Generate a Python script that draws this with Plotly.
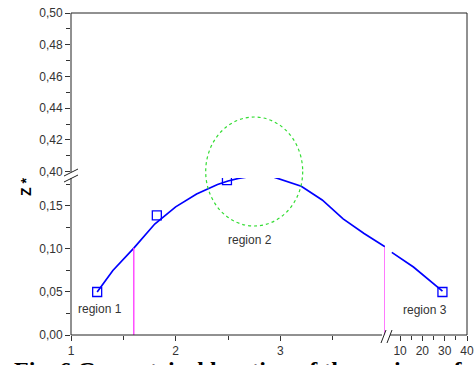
import plotly.graph_objects as go

# ---- data ----
curve_left_x = [1.25, 1.4, 1.6, 1.8, 2.0, 2.2, 2.4, 2.5, 2.6, 2.7, 2.8, 2.9, 3.0, 3.2, 3.4, 3.6, 3.8, 4.0]
curve_left_y = [0.050, 0.075, 0.101, 0.129, 0.149, 0.164, 0.175, 0.179, 0.182, 0.1845, 0.186, 0.185, 0.181, 0.173, 0.157, 0.135, 0.118, 0.1025]
curve_right_x = [6.3, 16, 29]
curve_right_y = [0.096, 0.079, 0.051]
pts_left_x = [1.25, 1.82, 2.49]
pts_left_y = [0.050, 0.139, 0.180]
pts_right_x = [29]
pts_right_y = [0.050]
region_lines_x = [1.6, 4.0]
region_lines_y = [0.101, 0.1025]
region_labels = ["region 1", "region 2", "region 3"]
region_label_x = [1.28, 2.71, 21.3]
region_label_y = [0.030, 0.110, 0.029]
y_low_ticks = [0.00, 0.05, 0.10, 0.15]
y_high_ticks = [0.40, 0.42, 0.44, 0.46, 0.48, 0.50]
x_left_ticks = [1, 2, 3]
x_right_ticks = [10, 20, 30, 40]

L, R, T, B = 71, 467, 13, 335
def px(x):
    return (x - L) / (R - L)
def py(y):
    return (B - y) / (B - T)

BLUE = "#0000ff"
MAG = "#ff33ff"
TXT = "#333333"
FONT = "Liberation Sans, Arial, sans-serif"

fig = go.Figure()
fig.add_trace(go.Scatter(x=curve_left_x, y=curve_left_y, mode="lines",
                         line=dict(color=BLUE, width=1.7), xaxis="x", yaxis="y"))
fig.add_trace(go.Scatter(x=curve_right_x, y=curve_right_y, mode="lines",
                         line=dict(color=BLUE, width=1.7), xaxis="x2", yaxis="y"))
fig.add_trace(go.Scatter(x=pts_left_x, y=pts_left_y, mode="markers",
                         marker=dict(symbol="square-open", size=9, color=BLUE, line=dict(width=1.3)),
                         xaxis="x", yaxis="y"))
fig.add_trace(go.Scatter(x=pts_right_x, y=pts_right_y, mode="markers",
                         marker=dict(symbol="square-open", size=9, color=BLUE, line=dict(width=1.3)),
                         xaxis="x2", yaxis="y", cliponaxis=False))
for xv, yv in zip(region_lines_x, region_lines_y):
    fig.add_trace(go.Scatter(x=[xv, xv], y=[0, yv], mode="lines",
                             line=dict(color=MAG, width=1.3), xaxis="x", yaxis="y"))
fig.add_trace(go.Scatter(x=[], y=[], xaxis="x", yaxis="y2"))

for i, (t, xv, yv) in enumerate(zip(region_labels, region_label_x, region_label_y)):
    fig.add_annotation(text=t, x=xv, y=yv, xref="x2" if i == 2 else "x", yref="y",
                       showarrow=False, font=dict(family=FONT, size=12, color=TXT))

axis_common = dict(ticks="outside", ticklen=5, tickwidth=1, tickcolor="#333",
                   showgrid=False, zeroline=False, showline=False, automargin=False,
                   tickfont=dict(family=FONT, size=12, color=TXT))

fig.update_layout(
    width=474, height=365,
    margin=dict(l=L, r=474 - R, t=T, b=365 - B),
    paper_bgcolor="white", plot_bgcolor="white",
    showlegend=False, separators=", ",
    xaxis=dict(domain=[0, px(385)], range=[1, 4], tickvals=x_left_ticks, anchor="y",
               minor=dict(tickvals=[1.5, 2.5, 3.5], ticks="outside", ticklen=4, tickcolor="#333"),
               **axis_common),
    xaxis2=dict(domain=[px(388.9), 1], range=[5, 40], tickvals=x_right_ticks, anchor="y",
                minor=dict(tickvals=[15, 25, 35], ticks="outside", ticklen=4, tickcolor="#333"),
                **axis_common),
    yaxis=dict(domain=[0, py(178)], range=[0, 0.1825], tickvals=y_low_ticks, tickformat=".2f",
               anchor="x",
               minor=dict(tickvals=[0.025, 0.075, 0.125, 0.175], ticks="outside", ticklen=4, tickcolor="#333"),
               **axis_common),
    yaxis2=dict(domain=[py(171.7), 1], range=[0.40, 0.50], tickvals=y_high_ticks, tickformat=".2f",
                anchor="x",
                minor=dict(tickvals=[0.41, 0.43, 0.45, 0.47, 0.49], ticks="outside", ticklen=4, tickcolor="#333"),
                **axis_common),
)

lc = "#222222"
def seg(x0, y0, x1, y1, color=lc, width=1):
    fig.add_shape(type="line", xref="paper", yref="paper",
                  x0=px(x0), y0=py(y0), x1=px(x1), y1=py(y1),
                  line=dict(color=color, width=width))

# frame
seg(L, T, R, T)
seg(R, T, R, B)
seg(L, T, L, 172)
seg(L, 178, L, B)
seg(L, B, 382, B)
seg(390, B, R, B)
# break marks
seg(64, 176, 78, 169)
seg(64, 182, 78, 175)
seg(381, 343, 386, 330)
seg(387, 343, 392, 330)

# region 2 circle
fig.add_shape(type="circle", xref="paper", yref="paper",
              x0=px(205.7), x1=px(302.7), y0=py(226), y1=py(117),
              line=dict(color="#33dd33", width=1.2, dash="dot"))

# y title
fig.add_annotation(text="<b>Z *</b>", xref="paper", yref="paper", x=px(16), y=py(187),
                   textangle=-90, showarrow=False, font=dict(family=FONT, size=14, color="black"))
# caption (cut at bottom)
fig.add_annotation(text="<b>Fig. 6 Geometrical location of the regions of</b>", xref="paper", yref="paper",
                   x=px(12), y=py(355), xanchor="left", yanchor="top", showarrow=False,
                   font=dict(family="Liberation Serif, Times New Roman, serif", size=24, color="black"))

fig.write_html("out.html")
